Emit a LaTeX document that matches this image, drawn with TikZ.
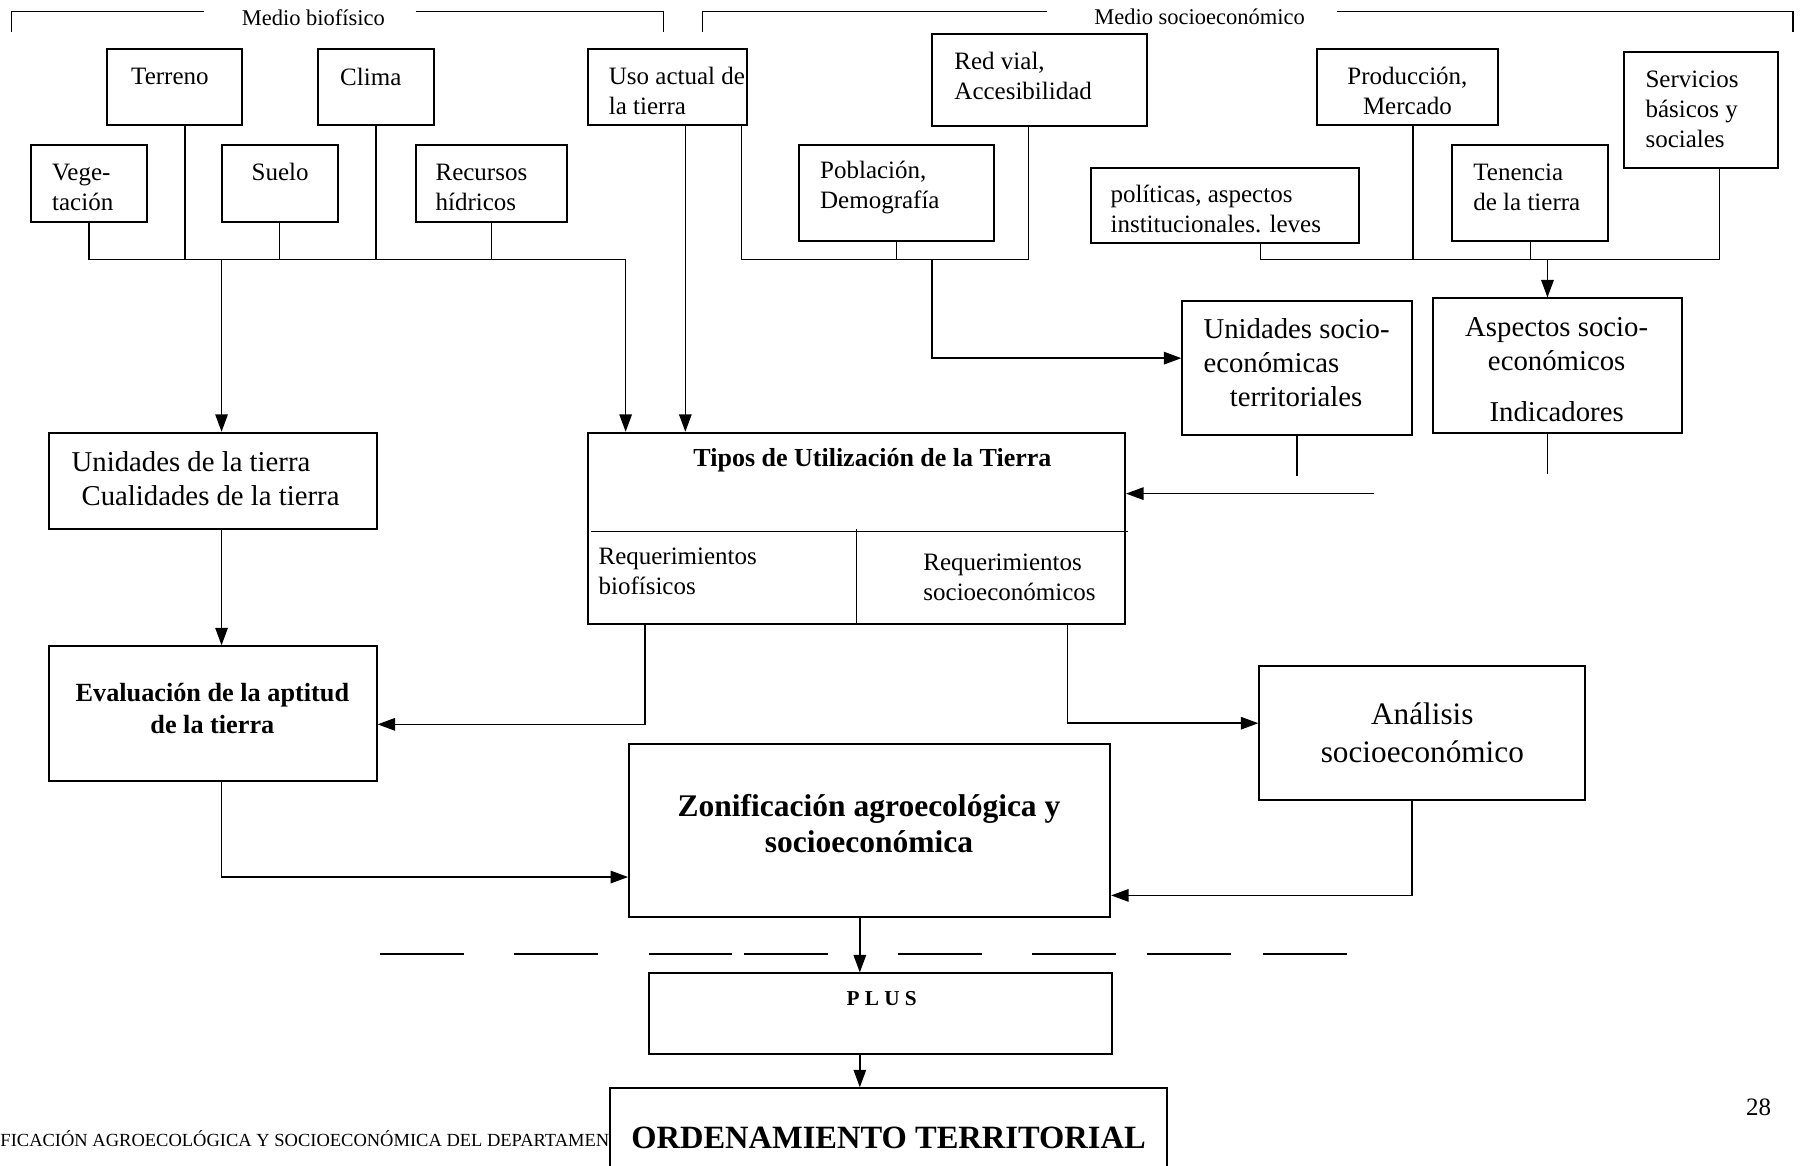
\documentclass[tikz,border=0pt]{standalone}
\usepackage{fontspec}
\setmainfont{Liberation Serif}
\usetikzlibrary{arrows.meta,fit}
% box from its two corners
\newcommand\bx[5]{\coordinate (#1-nw) at (#2,#3);
  \coordinate (#1-se) at (#4,#5);
  \node[box,fit=(#1-nw)(#1-se)] (#1) {};}
\begin{document}
\begin{tikzpicture}[x=.4592pt,y=-.4592pt,
  box/.style={draw,fill=white,inner sep=0pt,line width=.8pt},
  txt/.style={inner sep=0pt,font=\fontsize{10}{12}\selectfont},
  mid/.style={inner sep=0pt,font=\fontsize{11.5}{13.5}\selectfont},
  ln/.style={line width=.6pt},
  arr/.style={ln,-{Triangle[length=7pt,width=5pt]}}]
\useasboundingbox (0,0) rectangle (1568,1015);
% brackets
\node[txt,font=\fontsize{9}{11}\selectfont] (medioBio) at (273,15) {Medio biofísico};
\node[txt,font=\fontsize{9}{11}\selectfont] (medioSoc) at (1045,15) {Medio socioeconómico};
\draw[ln] (10,28) -- (10,10) -- (178,10) (362,10) -- (578,10) -- (578,28);
\draw[ln] (612,28) -- (612,10) -- (912,10) (1165,10) -- (1562,10) -- (1562,28);
% boxes
\bx{terreno}{93}{43}{211}{109}
\bx{clima}{277}{43}{378}{109}
\bx{uso}{512}{43}{651}{109}
\bx{red}{812}{30}{999}{110}
\bx{prod}{1147}{43}{1305}{109}
\bx{serv}{1415}{45}{1549}{146}
\bx{veg}{27}{126}{128}{193}
\bx{suelo}{193}{126}{294}{193}
\bx{rec}{362}{126}{494}{193}
\bx{pob}{696}{126}{866}{210}
\bx{pol}{950}{146}{1184}{212}
\bx{ten}{1265}{126}{1401}{210}
\bx{usoc}{1030}{262}{1230}{379}
\bx{asp}{1248}{260}{1465}{377}
\bx{udt}{43}{377}{328}{461}
\bx{tipos}{512}{377}{980}{544}
\bx{eval}{43}{563}{328}{680}
\bx{anal}{1097}{580}{1381}{697}
\bx{zon}{548}{648}{967}{799}
\bx{plus}{565}{848}{969}{918}
% texts
\node[txt] (tTerreno) at (148,67) {Terreno};
\node[txt] (tClima) at (323,67) {Clima};
\node[txt,anchor=west,align=left] (tUso) at (530,79) {Uso actual de\\la tierra};
\node[txt,anchor=west,align=left] (tRed) at (831,66) {Red vial,\\Accesibilidad};
\node[txt,align=center] (tProd) at (1226,79) {Producción,\\Mercado};
\node[txt,anchor=west,align=left] (tServ) at (1433,95) {Servicios\\básicos y\\sociales};
\node[txt,anchor=west,align=left] (tVeg) at (45,163) {Vege-\\tación};
\node[txt] (tSuelo) at (244,150) {Suelo};
\node[txt,anchor=west,align=left] (tRec) at (379,163) {Recursos\\hídricos};
\node[txt,anchor=west,align=left] (tPob) at (714,163) {Población,\\Demografía};
\node[txt,anchor=west,align=left] (tPol) at (967,182) {políticas, aspectos\\institucionales. leves};
\node[txt,anchor=west,align=left] (tTen) at (1283,163) {Tenencia\\de la tierra};
\node[mid,anchor=west,align=left] (tUsoc) at (1048,316)
  {Unidades socio-\\económicas\\\hspace*{10.5pt}territoriales};
\node[mid,align=center] (tAsp) at (1356,322)
  {Aspectos socio-\\económicos\\[7pt]Indicadores};
\node[mid,anchor=west,align=left] (tUdt) at (62,417)
  {Unidades de la tierra\\\hspace*{4pt}Cualidades de la tierra};
\node[txt,font=\fontsize{10.4}{12}\selectfont\bfseries] (tTipos) at (760,401) {Tipos de Utilización de la Tierra};
\node[txt,anchor=west,align=left] (tReqB) at (521,498) {Requerimientos\\biofísicos};
\node[txt,anchor=west,align=left] (tReqS) at (804,503) {Requerimientos\\socioeconómicos};
\node[txt,align=center,font=\fontsize{10.5}{12.8}\selectfont\bfseries] (tEval) at (185,617)
  {Evaluación de la aptitud\\de la tierra};
\node[txt,align=center,font=\fontsize{12.5}{15.2}\selectfont] (tAnal) at (1239,638)
  {Análisis\\socioeconómico};
\node[txt,align=center,font=\fontsize{12.6}{14.4}\selectfont\bfseries] (tZon) at (757,717)
  {Zonificación agroecológica y\\socioeconómica};
\node[txt,font=\fontsize{8.5}{10}\selectfont\bfseries] (tPlus) at (768,870) {P L U S};
\node[txt,anchor=west,font=\fontsize{7.4}{9}\selectfont] (tFoot) at (0,992)
  {FICACIÓN AGROECOLÓGICA Y SOCIOECONÓMICA DEL DEPARTAMEN};
\bx{orden}{531}{948}{1017}{1040}
\node[txt,font=\fontsize{13}{15}\selectfont\bfseries] (tOrd) at (774,991) {ORDENAMIENTO TERRITORIAL};
\node[txt] (tPage) at (1532,965) {28};
% Tipos dividers
\draw[ln] (515,463) -- (983,463);
\draw[ln] (746,461) -- (746,0 |- tipos.south);
% biophysical bus
\coordinate (busBio) at (545,226);
\draw[arr] (veg.south) |- (busBio) -- (busBio |- tipos.north);
\draw[ln] (161,0 |- terreno.south) -- (161,0 |- busBio);
\foreach \n in {suelo,clima,rec}
  \draw[ln] (\n.south) -- (\n.south |- busBio);
\draw[arr] (193,0 |- busBio) -- (193,0 |- udt.north);
\draw[arr] (597,0 |- uso.south) -- (597,0 |- tipos.north);
% socio buses
\coordinate (busVia) at (896,226);
\draw[ln] (646,0 |- uso.south) |- (busVia) -- (busVia |- red.south);
\draw[ln] (pob.south) -- (pob.south |- busVia);
\draw[arr] (812,0 |- busVia) |- (usoc.west |- 0,312);
\coordinate (busSoc) at (1498,226);
\draw[ln] (1098,0 |- pol.south) |- (busSoc) -- (busSoc |- serv.south);
\draw[ln] (1231,0 |- prod.south) -- (1231,0 |- busSoc);
\draw[ln] (ten.south) -- (ten.south |- busSoc);
\draw[arr] (1348,0 |- busSoc) -- (1348,0 |- asp.north);
% loose ends
\coordinate (gapEnd) at (1197,430);
\draw[ln] (usoc.south) -- ++(0,35);
\draw[ln] (1348,0 |- asp.south) -- ++(0,35);
\draw[arr] (gapEnd) -- (tipos.east |- gapEnd);
% lower flow
\draw[arr] (562,0 |- tipos.south) |- (eval.east |- 0,631);
\draw[arr] (930,0 |- tipos.south) |- (anal.west |- 0,630);
\draw[arr] (193,0 |- udt.south) -- (193,0 |- eval.north);
\draw[arr] (193,0 |- eval.south) |- (zon.west |- 0,764);
\draw[arr] (1230,0 |- anal.south) |- (zon.east |- 0,780);
\draw[arr] (749,0 |- zon.south) -- (749,0 |- plus.north);
\draw[arr] (749,0 |- plus.south) -- (749,0 |- orden.north);
\foreach \a in {331,448,565,648,782,899,999,1100}
  \draw[line width=1pt] (\a,831) -- ++(73,0);
\end{tikzpicture}
\end{document}
